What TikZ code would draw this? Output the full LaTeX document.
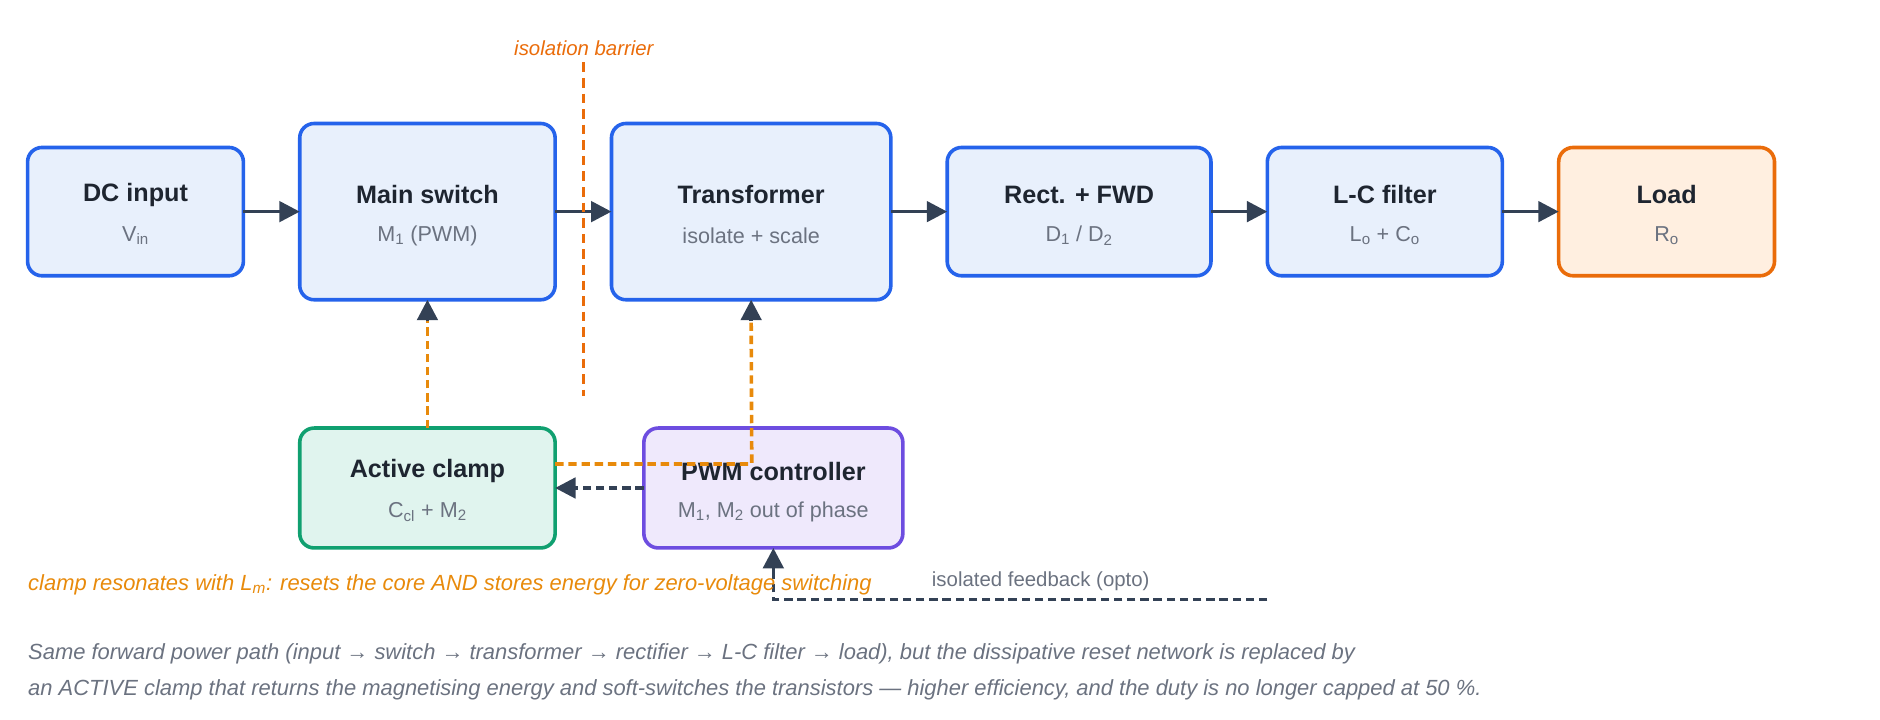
\documentclass[tikz,border=0pt]{standalone}
\usepackage{fontspec}
\setmainfont{Liberation Sans}
\usetikzlibrary{arrows.meta,calc}
\definecolor{bblue}{HTML}{2563EB}\definecolor{fblue}{HTML}{E8F0FC}
\definecolor{borange}{HTML}{EA6C0A}\definecolor{forange}{HTML}{FFEFE0}
\definecolor{bgreen}{HTML}{10A070}\definecolor{fgreen}{HTML}{E0F4EE}
\definecolor{bpurple}{HTML}{6D4DE0}\definecolor{fpurple}{HTML}{EFE9FC}
\definecolor{dark}{HTML}{334155}\definecolor{amber}{HTML}{E88A0B}
\definecolor{txt}{HTML}{1E2530}\definecolor{sub}{HTML}{6B7280}
\begin{document}
\begin{tikzpicture}[x=1pt,y=-1pt,
 box/.style={draw=bblue,fill=fblue,line width=3pt,rounded corners=12pt},
 ttl/.style={font=\bfseries\fontsize{21}{24}\selectfont,text=txt},
 subt/.style={font=\fontsize{18}{21}\selectfont,text=sub},
 arr/.style={draw=dark,line width=3pt,-{Triangle[length=17pt,width=17pt]}},
 darr/.style={arr,dashed,dash pattern=on 7pt off 4pt},
 oarr/.style={draw=amber,line width=3pt,dash pattern=on 7pt off 4pt}]
\useasboundingbox (0,0) rectangle (1568,600);
\newcommand\blk[8]{%
 \draw[box,#6] (#2,#3) rectangle (#4,#5);
 \node[ttl] (#1) at ({(#2+#4)/2},{(#3+#5)/2-14}) {#7};
 \node[subt] (#1s) at ({(#2+#4)/2},{(#3+#5)/2+20}) {#8};
 \coordinate (#1W) at (#2,{(#3+#5)/2});
 \coordinate (#1E) at (#4,{(#3+#5)/2});
 \coordinate (#1N) at ({(#2+#4)/2},#3);
 \coordinate (#1S) at ({(#2+#4)/2},#5);}
\blk{dc}{23}{123}{203}{230}{}{DC input}{V\textsubscript{in}}
\blk{ms}{250}{103}{463}{250}{}{Main switch}{M\textsubscript{1} (PWM)}
\blk{tr}{510}{103}{743}{250}{}{Transformer}{isolate + scale}
\blk{rf}{790}{123}{1010}{230}{}{Rect. + FWD}{D\textsubscript{1} / D\textsubscript{2}}
\blk{lc}{1057}{123}{1253}{230}{}{L-C filter}{L\textsubscript{o} + C\textsubscript{o}}
\blk{ld}{1300}{123}{1480}{230}{draw=borange,fill=forange}{Load}{R\textsubscript{o}}
\blk{ac}{250}{357}{463}{457}{draw=bgreen,fill=fgreen}{Active clamp}{C\textsubscript{cl} + M\textsubscript{2}}
\blk{pw}{537}{357}{753}{457}{draw=bpurple,fill=fpurple}{PWM controller}{M\textsubscript{1}, M\textsubscript{2} out of phase}
\draw[arr] (dcE)--(msW); \draw[arr] (msE)--(trW); \draw[arr] (trE)--(rfW);
\draw[arr] (rfE)--(lcW); \draw[arr] (lcE)--(ldW);
% barrier
\coordinate (b1) at (487,52); \coordinate (b2) at (487,330);
\draw[draw=borange,line width=2.6pt,dash pattern=on 8pt off 5pt] (b1)--(b2);
\node[font=\itshape\fontsize{17}{20}\selectfont,text=borange] (bl) at (487,40) {isolation barrier};
% clamp -> main switch
\draw[oarr] (acN)--($(msS)+(0,16)$);
\draw[arr] ($(msS)+(0,18)$)--(msS);
% transformer link
\coordinate (tk) at (627,387);
\draw[oarr] (acE|-tk)--(tk)--($(trS)+(0,16)$);
\draw[arr] ($(trS)+(0,18)$)--(trS);
% pwm -> clamp
\draw[darr] (pwW|-0,407)--(acE|-0,407);
% feedback
\coordinate (f1) at (1057,500); \coordinate (f2) at (645,500);
\draw[darr,-] (f1)--(f2)--(645,476);
\draw[arr] (645,478)--(645,457);
\node[font=\fontsize{17}{20}\selectfont,text=sub] (fl) at (868,485) {isolated feedback (opto)};
\node[anchor=west,font=\itshape\fontsize{18.3}{21}\selectfont,text=amber] (n1) at (20,488) {clamp resonates with \textit{L\textsubscript{m}}: resets the core AND stores energy for zero-voltage switching};
\node[anchor=west,font=\itshape\fontsize{18.3}{21}\selectfont,text=sub] (c1) at (20,545) {Same forward power path (input → switch → transformer → rectifier → L-C filter → load), but the dissipative reset network is replaced by};
\node[anchor=west,font=\itshape\fontsize{18.3}{21}\selectfont,text=sub] (c2) at (20,575) {an ACTIVE clamp that returns the magnetising energy and soft-switches the transistors — higher efficiency, and the duty is no longer capped at 50 \%.};
\end{tikzpicture}
\end{document}
